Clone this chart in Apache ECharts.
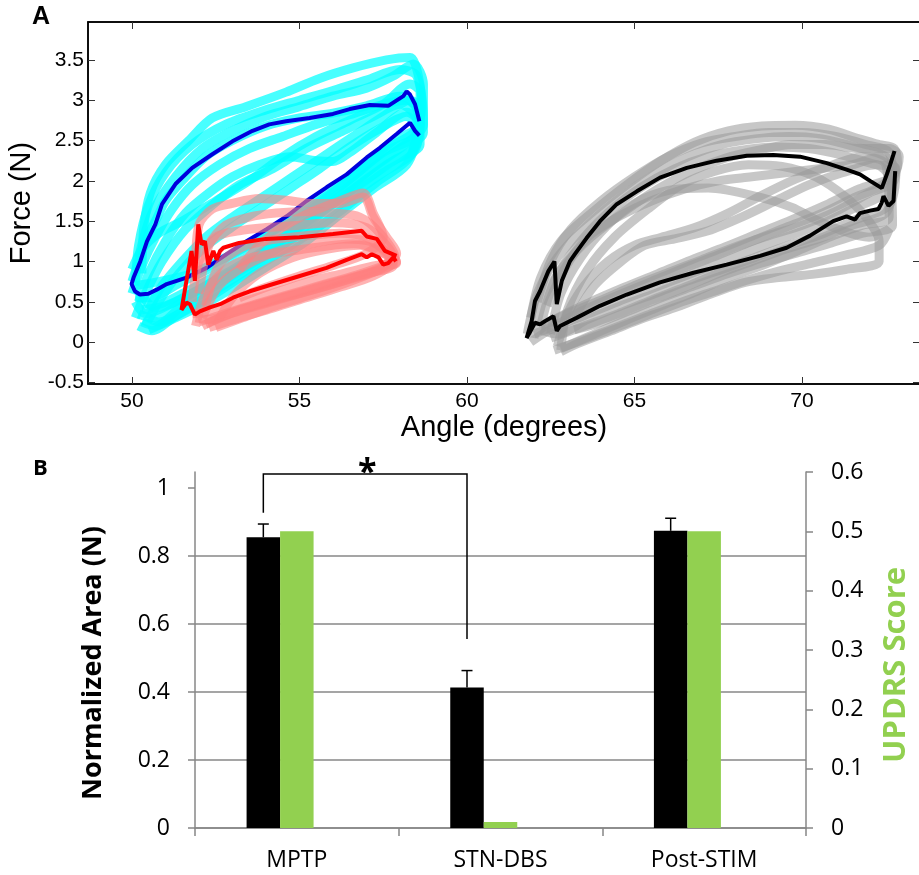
<!DOCTYPE html>
<html><head><meta charset="utf-8">
<script src="https://cdn.jsdelivr.net/npm/echarts@6/dist/echarts.min.js"></script>
<style>html,body{margin:0;padding:0;background:#fff}#c{width:919px;height:875px}</style>
</head><body><div id="c"></div>
<script>
// ---------- Panel A : force vs angle loops ----------
const xTicksA = [50, 55, 60, 65, 70];
const yTicksA = [-0.5, 0, 0.5, 1, 1.5, 2, 2.5, 3, 3.5];

const cyanLoops = [
  [[50.3,0.85],[50.35,1.4],[50.55,1.85],[51.0,2.2],[51.7,2.5],[52.4,2.78],[53.4,2.92],[54.6,3.1],[55.6,3.27],[56.6,3.4],[57.6,3.5],[58.3,3.53],[58.55,3.3],[58.65,2.9],[58.4,2.6],[57.6,2.4],[56.6,2.05],[55.6,1.72],[54.6,1.4],[53.6,1.1],[52.6,0.85],[51.6,0.62],[50.6,0.45],[50.3,0.6]],
  [[50.1,0.7],[50.2,1.2],[50.5,1.7],[51.0,2.1],[51.8,2.45],[52.8,2.7],[54.0,2.88],[55.0,3.0],[56.0,3.12],[57.0,3.25],[58.0,3.38],[58.5,3.3],[58.7,2.7],[58.3,2.5],[57.3,2.2],[56.3,1.85],[55.3,1.52],[54.3,1.22],[53.3,0.95],[52.3,0.72],[51.3,0.5],[50.4,0.35],[50.1,0.5]],
  [[50.0,0.75],[50.2,1.0],[50.45,1.3],[50.7,1.5],[51.0,1.75],[51.5,2.0],[52.2,2.3],[53.0,2.5],[54.0,2.68],[55.0,2.78],[56.0,2.84],[57.0,2.93],[58.0,3.05],[58.5,2.9],[58.55,2.6],[57.5,2.35],[56.5,2.02],[55.5,1.72],[54.5,1.45],[53.5,1.2],[52.5,0.95],[51.5,0.75],[50.5,0.55],[50.1,0.55]],
  [[50.0,0.6],[50.3,0.95],[50.7,1.3],[51.2,1.65],[51.8,1.95],[52.6,2.2],[53.5,2.4],[54.5,2.55],[55.5,2.7],[56.5,2.82],[57.5,2.95],[58.2,3.0],[58.6,2.8],[58.5,2.45],[57.6,2.2],[56.6,1.9],[55.6,1.6],[54.6,1.3],[53.6,1.02],[52.6,0.75],[51.6,0.52],[50.6,0.3],[50.2,0.35]],
  [[50.2,0.5],[50.5,0.85],[51.0,1.25],[51.6,1.6],[52.3,1.85],[53.0,2.05],[53.8,2.2],[54.7,2.3],[55.5,2.25],[56.0,2.24],[56.5,2.35],[57.3,2.6],[58.2,2.85],[58.6,2.7],[58.4,2.35],[57.5,2.1],[56.5,1.8],[55.5,1.48],[54.5,1.2],[53.5,0.95],[52.5,0.7],[51.5,0.45],[50.7,0.2],[50.3,0.25]],
  [[50.1,0.3],[50.4,0.6],[50.9,1.0],[51.6,1.4],[52.4,1.7],[53.2,1.95],[54.2,2.15],[55.2,2.4],[56.2,2.6],[57.2,2.8],[58.0,2.95],[58.5,2.75],[58.3,2.3],[57.3,1.98],[56.3,1.65],[55.3,1.35],[54.3,1.08],[53.3,0.82],[52.3,0.55],[51.3,0.32],[50.6,0.14],[50.2,0.2]],
  [[50.5,0.4],[50.9,0.7],[51.5,1.0],[52.2,1.3],[53.0,1.55],[53.9,1.8],[54.8,2.05],[55.7,2.3],[56.6,2.55],[57.5,2.8],[58.3,3.0],[58.6,2.9],[58.6,2.45],[57.8,2.25],[56.8,1.95],[55.8,1.65],[54.8,1.3],[53.8,1.0],[52.8,0.72],[51.8,0.45],[50.8,0.25],[50.5,0.3]],
  [[50.0,0.9],[50.3,1.15],[50.8,1.35],[51.5,1.5],[52.5,1.75],[53.5,2.0],[54.5,2.3],[55.5,2.55],[56.5,2.75],[57.5,2.95],[58.3,3.2],[58.6,3.1],[58.6,2.7],[57.8,2.5],[56.8,2.15],[55.8,1.85],[54.8,1.55],[53.8,1.28],[52.8,1.05],[51.8,0.85],[50.8,0.75],[50.1,0.7]],
  [[50.2,1.05],[50.6,1.6],[51.3,2.05],[52.1,2.4],[53.0,2.62],[54.0,2.8],[55.0,2.92],[56.0,3.05],[57.0,3.15],[57.8,3.3],[58.4,3.45],[58.7,3.2],[58.7,2.6],[58.0,2.4],[57.0,2.1],[56.0,1.78],[55.0,1.45],[54.0,1.15],[53.0,0.9],[52.0,0.65],[51.0,0.45],[50.3,0.4]],
  [[50.4,0.2],[50.8,0.5],[51.4,0.85],[52.1,1.15],[52.9,1.4],[53.8,1.65],[54.7,1.9],[55.6,2.15],[56.5,2.42],[57.4,2.65],[58.2,2.8],[58.5,2.6],[58.2,2.2],[57.2,1.9],[56.2,1.58],[55.2,1.25],[54.2,0.98],[53.2,0.72],[52.2,0.48],[51.2,0.28],[50.5,0.15]]
];

const redLoops = [
  [[51.9,0.9],[52.0,1.45],[52.4,1.65],[53.0,1.72],[53.8,1.78],[54.6,1.76],[55.4,1.72],[56.2,1.72],[56.9,1.8],[57.2,1.55],[57.6,1.3],[57.9,1.1],[57.5,0.95],[56.6,0.82],[55.6,0.7],[54.6,0.58],[53.6,0.46],[52.6,0.33],[52.0,0.25]],
  [[52.0,0.6],[52.3,1.2],[52.8,1.45],[53.5,1.55],[54.3,1.6],[55.2,1.62],[56.0,1.6],[56.8,1.55],[57.4,1.35],[57.85,1.05],[57.2,0.88],[56.2,0.76],[55.2,0.64],[54.2,0.52],[53.2,0.4],[52.3,0.28],[51.9,0.3]],
  [[51.8,0.5],[52.0,1.0],[52.5,1.3],[53.2,1.38],[54.0,1.42],[55.0,1.45],[56.0,1.48],[57.0,1.42],[57.6,1.2],[57.9,0.98],[57.3,0.95],[56.3,0.85],[55.3,0.75],[54.3,0.62],[53.3,0.5],[52.3,0.38],[51.8,0.35]],
  [[52.2,0.45],[52.6,0.95],[53.3,1.18],[54.2,1.27],[55.2,1.32],[56.2,1.35],[57.0,1.3],[57.6,1.1],[57.8,0.95],[57.0,0.85],[56.0,0.72],[55.0,0.6],[54.0,0.48],[53.0,0.36],[52.2,0.22]],
  [[53.2,0.9],[53.8,1.2],[54.6,1.45],[55.4,1.62],[56.2,1.75],[56.9,1.85],[57.2,1.6],[57.5,1.3],[57.0,1.1],[56.0,0.95],[55.0,0.82],[54.0,0.68],[53.2,0.55]],
  [[52.5,0.2],[53.0,0.55],[53.8,0.85],[54.8,1.05],[55.8,1.15],[56.8,1.2],[57.5,1.1],[57.9,1.0],[57.3,0.88],[56.3,0.72],[55.3,0.58],[54.3,0.45],[53.3,0.3],[52.5,0.18]],
  [[52.1,0.3],[52.6,0.7],[53.4,0.95],[54.3,1.12],[55.3,1.22],[56.3,1.28],[57.1,1.25],[57.7,1.05],[57.4,0.9],[56.5,0.78],[55.5,0.66],[54.5,0.55],[53.5,0.43],[52.6,0.3],[52.1,0.2]],
  [[51.9,0.2],[52.2,0.6],[52.8,0.9],[53.6,1.05],[54.6,1.12],[55.6,1.18],[56.6,1.22],[57.3,1.15],[57.8,1.0],[57.2,0.82],[56.2,0.68],[55.2,0.55],[54.2,0.42],[53.2,0.3],[52.3,0.18]]
];

const grayLoops = [
  [[61.9,0.3],[62.2,0.8],[62.8,1.25],[63.8,1.63],[64.8,1.96],[65.8,2.25],[66.8,2.48],[67.8,2.62],[68.8,2.68],[69.8,2.69],[70.8,2.64],[71.7,2.52],[72.3,2.45],[72.75,2.4],[72.85,2.2],[72.4,1.95],[71.5,1.78],[70.5,1.58],[69.5,1.42],[68.5,1.25],[67.5,1.08],[66.5,0.92],[65.5,0.75],[64.5,0.58],[63.5,0.4],[62.6,0.2],[62.0,0.1]],
  [[61.8,0.1],[62.1,0.6],[62.7,1.05],[63.6,1.45],[64.6,1.8],[65.6,2.08],[66.6,2.3],[67.6,2.45],[68.6,2.52],[69.6,2.55],[70.6,2.52],[71.6,2.42],[72.5,2.3],[72.8,2.1],[72.5,1.85],[71.5,1.65],[70.5,1.45],[69.5,1.3],[68.5,1.14],[67.5,0.98],[66.5,0.82],[65.5,0.66],[64.5,0.5],[63.5,0.33],[62.5,0.16],[61.9,0.0]],
  [[62.5,0.1],[62.8,0.6],[63.4,1.05],[64.2,1.45],[65.0,1.72],[66.0,1.88],[67.2,1.91],[68.7,1.8],[69.7,1.67],[70.4,1.52],[71.2,1.38],[72.0,1.3],[72.6,1.4],[72.3,1.2],[71.3,1.08],[70.3,0.98],[69.3,0.88],[68.3,0.76],[67.3,0.62],[66.3,0.48],[65.3,0.32],[64.3,0.16],[63.3,0.0],[62.6,-0.1]],
  [[62.2,0.2],[62.6,0.75],[63.3,1.2],[64.2,1.6],[65.2,1.92],[66.2,2.15],[67.2,2.3],[68.2,2.38],[69.2,2.42],[70.2,2.4],[71.2,2.32],[72.2,2.2],[72.8,2.15],[72.6,1.7],[71.6,1.52],[70.6,1.34],[69.6,1.2],[68.6,1.05],[67.6,0.9],[66.6,0.76],[65.6,0.6],[64.6,0.45],[63.6,0.28],[62.7,0.1],[62.2,0.15]],
  [[62.8,-0.1],[63.0,0.4],[63.6,0.9],[64.4,1.3],[65.4,1.65],[66.4,1.95],[67.4,2.12],[68.4,2.2],[69.4,2.18],[70.4,2.05],[71.3,1.8],[71.9,1.55],[72.3,1.25],[72.3,1.0],[71.3,0.9],[70.3,0.84],[69.3,0.8],[68.3,0.74],[67.3,0.6],[66.3,0.44],[65.3,0.3],[64.3,0.14],[63.3,-0.02],[62.8,-0.12]],
  [[62.0,0.05],[62.3,0.55],[62.9,0.95],[63.7,1.3],[64.7,1.62],[65.7,1.9],[66.7,2.12],[67.7,2.28],[68.7,2.38],[69.7,2.45],[70.7,2.45],[71.7,2.4],[72.6,2.4],[72.9,2.3],[72.7,2.05],[71.7,1.9],[70.7,1.7],[69.7,1.52],[68.7,1.35],[67.7,1.18],[66.7,1.02],[65.7,0.85],[64.7,0.68],[63.7,0.5],[62.7,0.3],[62.0,0.1]],
  [[63.2,0.3],[63.8,0.7],[64.6,1.0],[65.3,1.2],[66.2,1.28],[67.2,1.38],[68.2,1.55],[69.2,1.75],[70.2,1.95],[71.2,2.1],[72.2,2.2],[72.6,2.05],[72.7,1.45],[71.8,1.35],[70.8,1.22],[69.8,1.1],[68.8,0.98],[67.8,0.85],[66.8,0.7],[65.8,0.55],[64.8,0.38],[63.8,0.22],[63.2,0.15]],
  [[62.4,0.45],[62.9,0.9],[63.6,1.3],[64.5,1.55],[65.5,1.75],[66.5,1.9],[67.5,2.0],[68.5,2.05],[69.5,2.1],[70.5,2.15],[71.5,2.2],[72.3,2.3],[72.7,2.0],[72.5,1.6],[71.5,1.45],[70.5,1.28],[69.5,1.15],[68.5,1.0],[67.5,0.85],[66.5,0.68],[65.5,0.52],[64.5,0.35],[63.5,0.2],[62.5,0.05]],
  [[62.1,0.5],[62.5,1.0],[63.1,1.4],[64.0,1.75],[65.0,2.05],[66.0,2.3],[67.0,2.47],[68.0,2.55],[69.0,2.6],[70.0,2.6],[71.0,2.55],[71.9,2.45],[72.6,2.35],[72.7,2.0],[72.0,1.85],[71.0,1.62],[70.0,1.45],[69.0,1.32],[68.0,1.18],[67.0,1.02],[66.0,0.86],[65.0,0.7],[64.0,0.52],[63.0,0.35],[62.2,0.2]],
  [[62.7,-0.05],[63.0,0.35],[63.5,0.7],[64.2,1.0],[65.0,1.2],[65.8,1.3],[66.8,1.42],[67.8,1.6],[68.8,1.82],[69.8,2.02],[70.8,2.18],[71.8,2.3],[72.5,2.2],[72.6,1.55],[71.8,1.45],[70.8,1.3],[69.8,1.12],[68.8,0.95],[67.8,0.8],[66.8,0.62],[65.8,0.45],[64.8,0.28],[63.8,0.1],[62.8,-0.08]]
];

const blueMean = [[58.58,2.74],[58.45,2.95],[58.3,3.07],[58.2,3.11],[58.1,3.05],[57.95,3.01],[57.65,2.93],[57.1,2.94],[56.5,2.89],[56.0,2.83],[55.3,2.78],[54.6,2.74],[54.1,2.70],[53.6,2.62],[53.0,2.49],[52.4,2.33],[51.8,2.16],[51.3,1.96],[50.9,1.71],[50.7,1.46],[50.45,1.25],[50.25,1.0],[50.05,0.8],[49.99,0.72],[50.09,0.63],[50.24,0.59],[50.49,0.6],[50.74,0.65],[51.04,0.72],[51.63,0.8],[52.23,0.92],[52.83,1.09],[53.42,1.25],[54.02,1.40],[54.62,1.56],[55.21,1.75],[55.81,1.92],[56.41,2.08],[57.01,2.29],[57.4,2.41],[57.9,2.58],[58.3,2.72],[58.45,2.62],[58.58,2.56]];

const redMean = [[57.9,1.07],[57.85,1.09],[57.55,1.13],[57.31,1.28],[57.01,1.31],[56.86,1.38],[56.0,1.34],[55.0,1.30],[54.0,1.28],[53.2,1.23],[52.73,1.17],[52.63,1.13],[52.53,1.02],[52.43,1.13],[52.28,0.96],[52.18,1.25],[52.08,1.21],[51.98,1.46],[51.88,0.76],[51.78,1.13],[51.48,0.40],[51.63,0.49],[51.73,0.47],[51.88,0.34],[52.03,0.38],[52.33,0.43],[52.63,0.47],[53.02,0.55],[53.52,0.63],[54.22,0.72],[55.01,0.82],[55.81,0.92],[56.41,1.02],[56.86,1.09],[57.01,1.05],[57.16,1.09],[57.36,1.05],[57.50,0.96],[57.65,0.98],[57.80,1.05],[57.88,1.0]];

const blackMean = [[72.76,2.37],[72.63,2.20],[72.53,2.08],[72.38,1.91],[72.03,2.0],[71.73,2.08],[71.33,2.14],[70.74,2.22],[69.94,2.30],[69.14,2.32],[68.35,2.31],[67.45,2.25],[66.56,2.16],[65.76,2.04],[65.07,1.87],[64.47,1.71],[63.97,1.50],[63.57,1.29],[63.22,1.09],[63.07,1.00],[62.83,0.76],[62.68,0.47],[62.61,1.00],[62.43,0.88],[62.18,0.63],[62.03,0.51],[61.93,0.26],[61.78,0.05],[62.03,0.24],[62.18,0.22],[62.33,0.26],[62.58,0.32],[62.68,0.14],[62.78,0.20],[63.27,0.30],[63.97,0.45],[64.77,0.59],[65.76,0.74],[66.76,0.86],[67.75,0.96],[68.75,1.07],[69.54,1.17],[70.24,1.32],[70.93,1.50],[71.33,1.56],[71.58,1.52],[71.73,1.60],[72.03,1.63],[72.28,1.65],[72.38,1.73],[72.43,1.81],[72.58,1.69],[72.73,1.75],[72.78,2.12]];

// ---------- Panel B : normalized area / UPDRS ----------
const categoriesB = ['MPTP', 'STN-DBS', 'Post-STIM'];
const normArea = [0.855, 0.413, 0.874];
const normAreaErr = [0.039, 0.050, 0.037];
const updrs = [0.5, 0.01, 0.5];
const leftTicksB = [0, 0.2, 0.4, 0.6, 0.8, 1];
const rightTicksB = [0, 0.1, 0.2, 0.3, 0.4, 0.5, 0.6];
// [fromCategory, toCategory, leftFootY, rightFootY, topY]
const sigBracket = [[0, 1, 0.927, 0.556, 1.041]];

const BAR_W = 33.5;
const fontA = 'Liberation Sans';
const fontB = 'Open Sans';
const gridGray = '#878787';

function loopSeries(loops, color, opacity) {
  return loops.map(d => ({
    type: 'line', xAxisIndex: 0, yAxisIndex: 0, data: d,
    smooth: 0.3, showSymbol: false, silent: true,
    lineStyle: { color: color, width: 9, opacity: opacity }
  }));
}
function meanSeries(d, color) {
  return { type: 'line', xAxisIndex: 0, yAxisIndex: 0, data: d, smooth: false,
    showSymbol: false, silent: true, lineStyle: { color: color, width: 4 } };
}
function boxAxis(extra) {
  return Object.assign({
    axisLine: { show: true, onZero: false, lineStyle: { color: '#000', width: 1.5 } },
    splitLine: { show: false }
  }, extra);
}
function boxTicks(vals) {
  return { show: true, inside: true, length: 7, customValues: vals, lineStyle: { color: '#333', width: 1 } };
}
const noText = () => '';

const chart = echarts.init(document.getElementById('c'));
const option = {
  animation: false,
  backgroundColor: '#fff',
  grid: [
    { left: 88, right: -1, top: 22, bottom: 491, containLabel: false, outerBoundsMode: 'none',
      show: true, borderColor: '#000', borderWidth: 1.5, backgroundColor: 'rgba(0,0,0,0)' },
    { left: 195, right: 113, top: 472, bottom: 47, containLabel: false, outerBoundsMode: 'none' }
  ],
  graphic: [
    { type: 'text', left: 32, top: 5, style: { text: 'A', font: 'bold 25px "Liberation Sans"', fill: '#000' } },
    { type: 'text', left: 33, top: 458, style: { text: 'B', font: 'bold 22px "Open Sans"', fill: '#000' } }
  ],
  xAxis: [
    boxAxis({ type: 'value', gridIndex: 0, min: 48.69, max: 73.52, position: 'bottom',
      name: 'Angle (degrees)', nameLocation: 'middle', nameGap: 29,
      nameTextStyle: { fontFamily: fontA, fontSize: 29, color: '#000', verticalAlign: 'top' },
      axisTick: boxTicks(xTicksA),
      axisLabel: { customValues: xTicksA, fontFamily: fontA, fontSize: 21, color: '#000', margin: 7 } }),
    boxAxis({ type: 'value', gridIndex: 0, min: 48.69, max: 73.52, position: 'top',
      axisTick: boxTicks(xTicksA),
      axisLabel: { show: true, formatter: noText } }),
    { type: 'category', gridIndex: 1, data: categoriesB,
      axisLine: { show: true, lineStyle: { color: gridGray, width: 1.5 } },
      axisTick: { show: true, length: 8, lineStyle: { color: gridGray, width: 1.5 } },
      axisLabel: { fontFamily: fontB, fontSize: 23, color: '#000', margin: 21 } }
  ],
  yAxis: [
    boxAxis({ type: 'value', gridIndex: 0, min: -0.52, max: 3.97, position: 'left',
      name: 'Force (N)', nameLocation: 'middle', nameGap: 46,
      nameTextStyle: { fontFamily: fontA, fontSize: 29, color: '#000' },
      axisTick: boxTicks(yTicksA),
      axisLabel: { customValues: yTicksA, fontFamily: fontA, fontSize: 21, color: '#000', margin: 4 } }),
    boxAxis({ type: 'value', gridIndex: 0, min: -0.52, max: 3.97, position: 'right',
      axisTick: boxTicks(yTicksA),
      axisLabel: { show: true, formatter: noText } }),
    { type: 'value', gridIndex: 1, min: 0, max: 1.047, position: 'left',
      name: 'Normalized Area (N)', nameLocation: 'middle', nameGap: 88,
      nameTextStyle: { fontFamily: fontB, fontSize: 27, fontWeight: 'bold', color: '#000', padding: [0, 26, 0, 0] },
      axisLine: { show: true, onZero: false, lineStyle: { color: gridGray, width: 1.5 } },
      axisTick: { show: true, length: 7, customValues: leftTicksB, lineStyle: { color: gridGray, width: 1.5 } },
      axisLabel: { customValues: leftTicksB, fontFamily: fontB, fontSize: 23, color: '#000', margin: 25 },
      splitLine: { show: true, showMaxLine: false, lineStyle: { color: gridGray, width: 1.5 } } },
    { type: 'value', gridIndex: 1, min: 0, max: 0.6, position: 'right',
      name: 'UPDRS Score', nameLocation: 'middle', nameGap: 75, nameRotate: 90,
      nameTextStyle: { fontFamily: fontB, fontSize: 31, fontWeight: 'bold', color: '#92D050', padding: [0, 30, 0, 0] },
      axisLine: { show: true, onZero: false, lineStyle: { color: gridGray, width: 1.5 } },
      axisTick: { show: true, length: 7, customValues: rightTicksB, lineStyle: { color: gridGray, width: 1.5 } },
      axisLabel: { customValues: rightTicksB, fontFamily: fontB, fontSize: 23, color: '#000', margin: 25 },
      splitLine: { show: false } }
  ],
  series: [].concat(
    loopSeries(cyanLoops, '#00FFFF', 0.72),
    [meanSeries(blueMean, '#0000DD')],
    loopSeries(redLoops, '#FF8080', 0.6),
    [meanSeries(redMean, '#FF0000')],
    loopSeries(grayLoops, '#999999', 0.55),
    [meanSeries(blackMean, '#000000')],
    [
      { type: 'bar', name: 'Normalized Area', xAxisIndex: 2, yAxisIndex: 2, data: normArea,
        barWidth: BAR_W, barGap: '0%', itemStyle: { color: '#000' }, silent: true },
      { type: 'bar', name: 'UPDRS Score', xAxisIndex: 2, yAxisIndex: 3, data: updrs,
        barWidth: BAR_W, barGap: '0%', itemStyle: { color: '#92D050' }, silent: true },
      { type: 'bar', name: 'spacer', xAxisIndex: 2, yAxisIndex: 3, data: categoriesB.map(() => '-'),
        barWidth: BAR_W, barGap: '0%', itemStyle: { color: 'transparent' }, silent: true },
      { type: 'custom', name: 'err', xAxisIndex: 2, yAxisIndex: 2, z: 5, clip: false, silent: true,
        data: normArea.map((v, i) => [i, v, normAreaErr[i]]),
        encode: { x: 0, y: 1 },
        renderItem: (params, api) => {
          const c = api.value(0), v = api.value(1), e = api.value(2);
          const p0 = api.coord([c, v]), p1 = api.coord([c, v + e]);
          const x = p0[0] - BAR_W;
          return { type: 'group', children: [
            { type: 'line', shape: { x1: x, y1: p0[1], x2: x, y2: p1[1] }, style: { stroke: '#000', lineWidth: 1.5 } },
            { type: 'line', shape: { x1: x - 5.5, y1: p1[1], x2: x + 5.5, y2: p1[1] }, style: { stroke: '#000', lineWidth: 1.5 } }
          ] };
        } },
      { type: 'custom', name: 'sig', xAxisIndex: 2, yAxisIndex: 2, z: 6, clip: false, silent: true,
        data: sigBracket, encode: { x: 0, y: 4 },
        renderItem: (params, api) => {
          const a = api.value(0), b = api.value(1);
          const pa = api.coord([a, api.value(2)]), pat = api.coord([a, api.value(4)]);
          const pb = api.coord([b, api.value(3)]), pbt = api.coord([b, api.value(4)]);
          const xa = pa[0] - BAR_W, xb = pb[0] - BAR_W;
          return { type: 'group', children: [
            { type: 'polyline', shape: { points: [[xa, pa[1]], [xa, pat[1]], [xb, pbt[1]], [xb, pb[1]]] },
              style: { stroke: '#000', lineWidth: 1.5, fill: null } },
            { type: 'text', style: { text: '*', x: (xa + xb) / 2 + 2, y: pat[1] - 1, align: 'center', verticalAlign: 'middle',
              font: 'bold 34px "Open Sans"', fill: '#000' } }
          ] };
        } }
    ]
  )
};
chart.setOption(option);
</script>
</body></html>
